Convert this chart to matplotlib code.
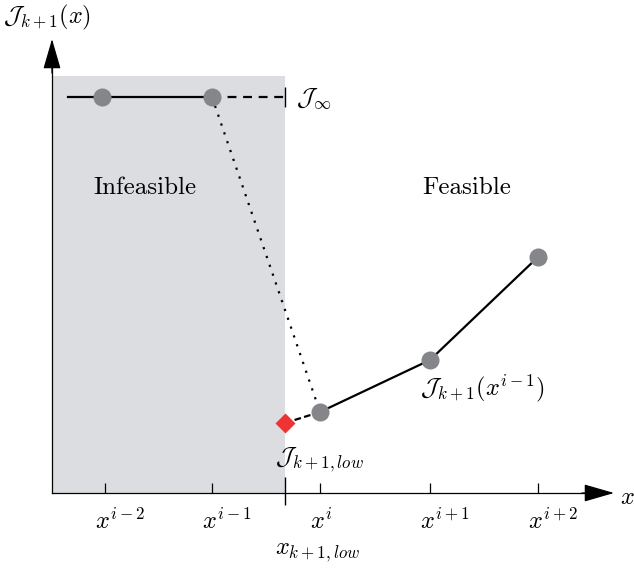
import matplotlib
matplotlib.use("Agg")
import matplotlib.pyplot as plt

plt.rcParams['mathtext.fontset'] = 'cm'
plt.rcParams['font.family'] = ['DejaVu Serif']

# Data (diagram units: origin at axes crossing)
tick_x = [53, 160, 268, 378, 486]
tick_labels = [r'$x^{i-2}$', r'$x^{i-1}$', r'$x^{i}$', r'$x^{i+1}$', r'$x^{i+2}$']
x_low = 233
x_low_label = r'$x_{k+1,low}$'

infeasible_x = [50, 160]
J_inf = 396
line_start = 16

feasible_x = [268, 378, 486]
feasible_y = [81, 133, 236]

J_low = 70
region_top = 417

fig = plt.figure(figsize=(6.34, 5.70), dpi=100)
ax = fig.add_axes([0, 0, 1, 1])
ax.set_xlim(-52, 582)
ax.set_ylim(-77, 493)
ax.axis('off')

gray = '#dcdde0'
ptc = '#85868a'

# infeasible region
ax.fill_between([0, x_low], 0, region_top, color=gray, lw=0, zorder=0)

# axes
ax.plot([0, 0], [0, 440], color='black', lw=0.9, zorder=2)
ax.plot([0, 545], [0, 0], color='black', lw=0.9, zorder=2)
ax.annotate('', xy=(0, 454), xytext=(0, 420),
            arrowprops=dict(arrowstyle='-|>,head_length=1.9,head_width=0.55', color='black', lw=0.9, shrinkA=0, shrinkB=0))
ax.annotate('', xy=(562, 0), xytext=(530, 0),
            arrowprops=dict(arrowstyle='-|>,head_length=1.9,head_width=0.55', color='black', lw=0.9, shrinkA=0, shrinkB=0))

# ticks
ax.vlines(tick_x, 0, 10, color='black', lw=0.9)
ax.vlines([x_low], -12, 16, color='black', lw=1.0)

# J_inf line
ax.plot([line_start, infeasible_x[-1]], [J_inf, J_inf], color='black', lw=1.6, zorder=3)
ax.plot([infeasible_x[-1], x_low], [J_inf, J_inf], color='black', lw=1.6, ls=(0, (4, 3)), zorder=3)
ax.vlines([x_low], J_inf - 10, J_inf + 10, color='black', lw=1.0)
ax.plot(infeasible_x, [J_inf] * len(infeasible_x), 'o', color=ptc, ms=13, mec='none', zorder=4)

# dotted transition
ax.plot([infeasible_x[-1], feasible_x[0]], [J_inf, feasible_y[0]], color='black', lw=1.6, ls=(0, (1, 3.2)), zorder=3)

# feasible piecewise
ax.plot(feasible_x, feasible_y, color='black', lw=1.6, zorder=3)
ax.plot([x_low, feasible_x[0]], [J_low, feasible_y[0]], color='black', lw=1.6, ls=(0, (3, 1.5)), zorder=3)
ax.plot(feasible_x, feasible_y, 'o', color=ptc, ms=13, mec='none', zorder=4)
ax.plot([x_low], [J_low], 'D', color='#ee3333', ms=10, mec='none', zorder=5)

# texts
fs = 17.5
for x, lab in zip(tick_x, tick_labels):
    ax.text(x - 10, -28, lab, ha='left', va='center', fontsize=fs)
ax.text(x_low - 10, -60, x_low_label, ha='left', va='center', fontsize=fs)
ax.text(575, -4, r'$x$', ha='center', va='center', fontsize=fs)
ax.text(-49, 476, r'$\mathcal{J}_{k+1}(x)$', ha='left', va='center', fontsize=fs)
ax.text(244, J_inf - 2, r'$\mathcal{J}_\infty$', ha='left', va='center', fontsize=fs)
ax.text(93, 305, 'Infeasible', ha='center', va='center', fontsize=18, family='cmr10')
ax.text(415, 305, 'Feasible', ha='center', va='center', fontsize=18, family='cmr10')
ax.text(368, 105, r'$\mathcal{J}_{k+1}(x^{i-1})$', ha='left', va='center', fontsize=fs)
ax.text(223, 33, r'$\mathcal{J}_{k+1,low}$', ha='left', va='center', fontsize=fs)

fig.savefig('out.png', dpi=100)
